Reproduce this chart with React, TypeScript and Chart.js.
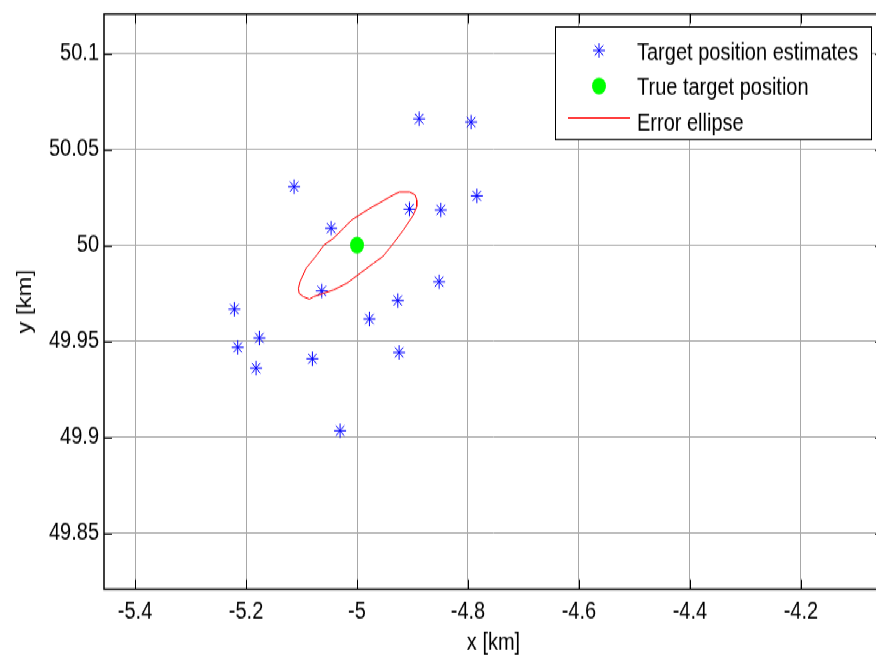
import { useEffect, useRef } from "react";
import { Chart, registerables } from "chart.js";

Chart.register(...registerables);

// Estimated target positions [km]
const estimateX = [
  -4.888, -4.7943, -5.1134, -5.0467, -4.9055, -4.849, -4.784, -5.0635, -4.852,
  -4.9265, -4.9776, -5.221, -5.1759, -5.215, -5.1819, -5.0804, -4.9241, -5.0305,
];
const estimateY = [
  50.0658, 50.0641, 50.0305, 50.0089, 50.0188, 50.0184, 50.0257, 49.9762, 49.981,
  49.9712, 49.9616, 49.9667, 49.9516, 49.9467, 49.9359, 49.9408, 49.9441, 49.9033,
];

// True target position [km]
const trueX = [-5];
const trueY = [50];

// Error ellipse outline [km]
const ellipseX = [
  -4.9235, -4.9055, -4.8953, -4.8923, -4.8923, -4.8983, -4.9163, -4.9343, -4.9535,
  -4.9704, -4.9944, -5.0184, -5.0425, -5.0605, -5.0785, -5.0857, -5.0966, -5.1044,
  -5.1056, -5.1026, -5.0918, -5.0725, -5.0593, -5.0425, -5.0245, -5.0094, -4.9764,
  -4.9584, -4.9403, -4.9235,
];
const ellipseY = [
  50.0278, 50.0278, 50.0262, 50.0236, 50.0201, 50.0158, 50.008, 50.001, 49.9941,
  49.9906, 49.9854, 49.9802, 49.9767, 49.975, 49.9732, 49.9719, 49.9732, 49.975,
  49.9776, 49.9811, 49.988, 49.9949, 50.0002, 50.0036, 50.0088, 50.0132, 50.0193,
  50.0222, 50.0253, 50.0278,
];

const xTicks = [-5.4, -5.2, -5, -4.8, -4.6, -4.4, -4.2];
const yTicks = [49.85, 49.9, 49.95, 50, 50.05, 50.1];

const legendLabels = ["Target position estimates", "True target position", "Error ellipse"];

const W = 900;
const H = 548;
const SY = 657 / 548;
const PLOT_LEFT = 104;
const PLOT_TOP = 11.7;
const PLOT_RIGHT = 883;
const PLOT_BOTTOM = 491.5;
const FONT = '"Liberation Sans", Arial, Helvetica, sans-serif';
const GRID = "#a8a8a8";

function drawStar(ctx: CanvasRenderingContext2D, x: number, y: number, r: number) {
  const d = r * Math.SQRT1_2;
  ctx.beginPath();
  ctx.moveTo(x - r, y);
  ctx.lineTo(x + r, y);
  ctx.moveTo(x, y - r);
  ctx.lineTo(x, y + r);
  ctx.moveTo(x - d, y - d);
  ctx.lineTo(x + d, y + d);
  ctx.moveTo(x - d, y + d);
  ctx.lineTo(x + d, y - d);
  ctx.stroke();
}

// Box, inward tick marks and the legend, MATLAB style
const framePlugin = {
  id: "frame",
  afterDraw(chart: any) {
    const { ctx, chartArea } = chart;
    const { left, top, right, bottom } = chartArea;
    const xs = chart.scales.x;
    const ys = chart.scales.y;
    ctx.save();
    ctx.strokeStyle = "#000";
    ctx.lineWidth = 1;
    const tl = 8;
    for (const v of xTicks) {
      const px = Math.round(xs.getPixelForValue(v)) + 0.5;
      ctx.beginPath();
      ctx.moveTo(px, bottom);
      ctx.lineTo(px, bottom - tl);
      ctx.moveTo(px, top);
      ctx.lineTo(px, top + tl);
      ctx.stroke();
    }
    for (const v of yTicks) {
      const py = Math.round(ys.getPixelForValue(v)) + 0.5;
      ctx.beginPath();
      ctx.moveTo(left, py);
      ctx.lineTo(left + tl, py);
      ctx.moveTo(right, py);
      ctx.lineTo(right - tl, py);
      ctx.stroke();
    }
    ctx.lineWidth = 1.5;
    ctx.strokeRect(left, top, right - left, bottom - top);

    // legend
    const lx = 555.5;
    const ly = 22.5;
    const lw = 316;
    const lh = 94;
    ctx.fillStyle = "#fff";
    ctx.fillRect(lx, ly, lw, lh);
    ctx.lineWidth = 1;
    ctx.strokeStyle = "#000";
    ctx.strokeRect(lx, ly, lw, lh);

    ctx.strokeStyle = "#0000ff";
    ctx.lineWidth = 1;
    drawStar(ctx, 599, 42, 6);

    ctx.fillStyle = "#00ff00";
    ctx.beginPath();
    ctx.arc(599, 71.7, 7, 0, Math.PI * 2);
    ctx.fill();

    ctx.strokeStyle = "#ff0000";
    ctx.beginPath();
    ctx.moveTo(568, 98.5);
    ctx.lineTo(630, 98.5);
    ctx.stroke();

    ctx.fillStyle = "#000";
    ctx.font = `20px ${FONT}`;
    ctx.textAlign = "left";
    ctx.textBaseline = "alphabetic";
    ctx.fillText(legendLabels[0], 637, 49.5);
    ctx.fillText(legendLabels[1], 637, 78.5);
    ctx.fillText(legendLabels[2], 637, 108.5);
    ctx.restore();
  },
};

export default function App() {
  const ref = useRef<HTMLCanvasElement>(null);

  useEffect(() => {
    const canvas = ref.current;
    if (!canvas) return;
    const chart = new Chart(canvas, {
      type: "scatter",
      data: {
        datasets: [
          {
            label: legendLabels[0],
            data: estimateX.map((x, i) => ({ x, y: estimateY[i] })),
            pointStyle: "star",
            pointRadius: 6,
            borderColor: "#0000ff",
            backgroundColor: "#0000ff",
            borderWidth: 1,
            showLine: false,
            order: 3,
          },
          {
            label: legendLabels[1],
            data: trueX.map((x, i) => ({ x, y: trueY[i] })),
            pointStyle: "circle",
            pointRadius: 7,
            borderWidth: 0,
            borderColor: "#00ff00",
            backgroundColor: "#00ff00",
            showLine: false,
            order: 2,
          },
          {
            label: legendLabels[2],
            data: ellipseX.map((x, i) => ({ x, y: ellipseY[i] })),
            showLine: true,
            pointRadius: 0,
            borderColor: "#ff0000",
            backgroundColor: "#ff0000",
            borderWidth: 1,
            tension: 0,
            fill: false,
            order: 1,
          },
        ],
      },
      options: {
        responsive: false,
        animation: false,
        events: [],
        layout: {
          padding: { left: 0, top: PLOT_TOP, right: W - PLOT_RIGHT, bottom: 0 },
        },
        plugins: {
          legend: { display: false },
          tooltip: { enabled: false },
        },
        scales: {
          x: {
            type: "linear",
            position: "bottom",
            min: -5.456,
            max: -4.052,
            bounds: "data",
            afterBuildTicks: (s: any) => {
              s.ticks = xTicks.map((v) => ({ value: v }));
            },
            afterFit: (s: any) => {
              s.height = H - PLOT_BOTTOM;
              s.paddingLeft = 0;
              s.paddingRight = 0;
            },
            ticks: {
              autoSkip: false,
              maxRotation: 0,
              padding: 7,
              color: "#000",
              font: { family: FONT, size: 20 },
              callback: (v: any) => String(v),
            },
            grid: { color: GRID, lineWidth: 1, drawTicks: false },
            border: { display: false },
            title: {
              display: true,
              text: "x [km]",
              color: "#000",
              font: { family: FONT, size: 20 },
              padding: { top: 0, bottom: 0 },
            },
          },
          y: {
            type: "linear",
            position: "left",
            min: 49.8207,
            max: 50.1205,
            bounds: "data",
            afterBuildTicks: (s: any) => {
              s.ticks = yTicks.map((v) => ({ value: v }));
            },
            afterFit: (s: any) => {
              s.width = PLOT_LEFT;
              s.paddingTop = 0;
              s.paddingBottom = 0;
            },
            ticks: {
              autoSkip: false,
              padding: 5,
              color: "#000",
              font: { family: FONT, size: 20 },
              callback: (v: any) => String(v),
            },
            grid: { color: GRID, lineWidth: 1, drawTicks: false },
            border: { display: false },
            title: {
              display: true,
              text: "y [km]",
              color: "#000",
              font: { family: FONT, size: 20 },
              padding: { top: 13, bottom: 0 },
            },
          },
        },
      },
      plugins: [framePlugin],
    } as any);
    return () => chart.destroy();
  }, []);

  return (
    <div
      style={{
        position: "fixed",
        left: 0,
        top: 0,
        width: W,
        height: H,
        transform: `scaleY(${SY})`,
        transformOrigin: "0 0",
        background: "#fff",
      }}
    >
      <canvas ref={ref} width={W} height={H} style={{ width: W, height: H, display: "block" }} />
    </div>
  );
}
